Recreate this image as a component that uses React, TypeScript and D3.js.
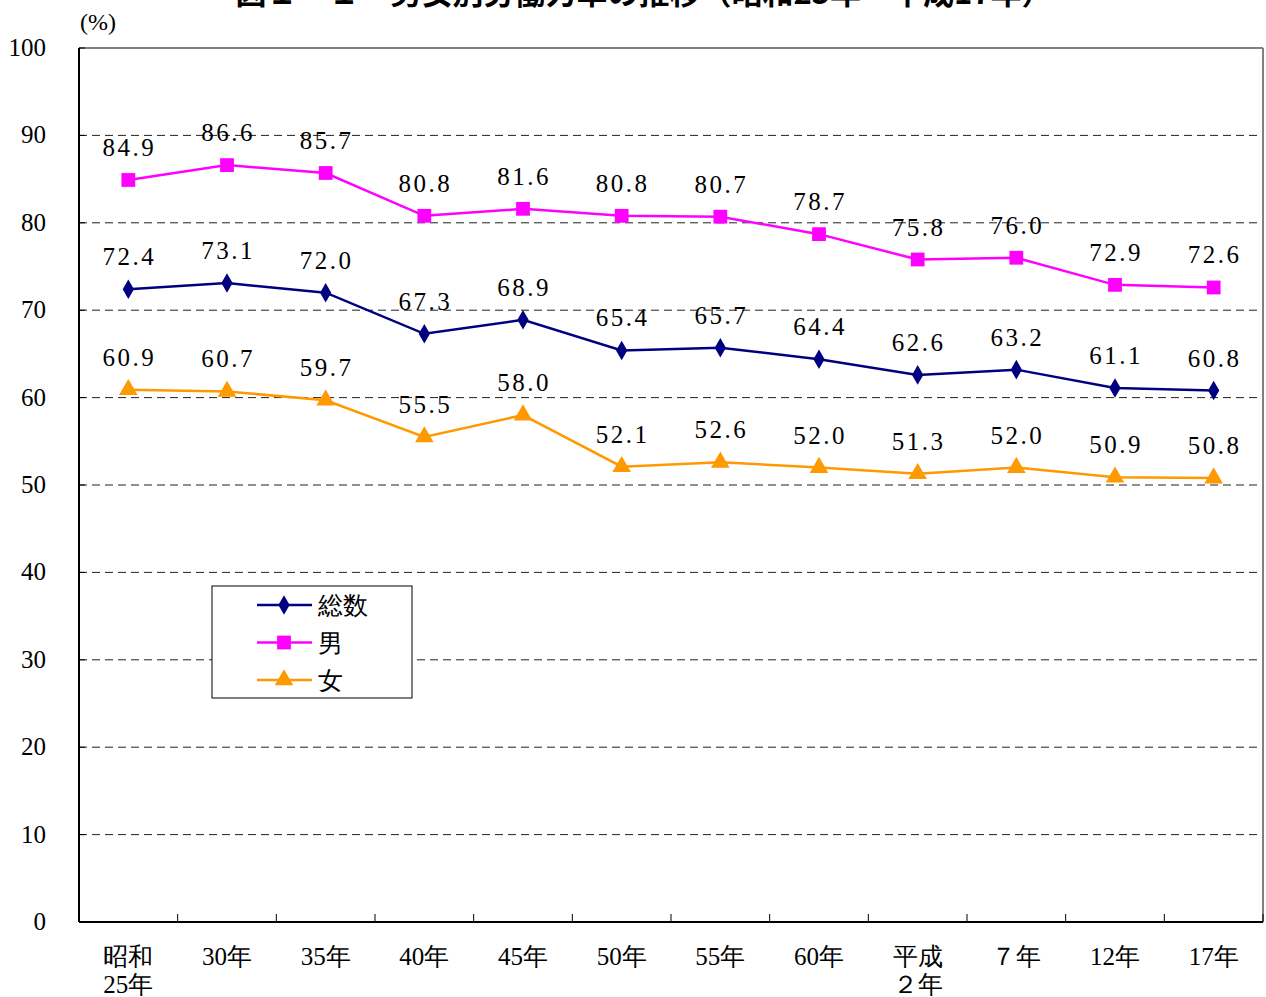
import * as d3 from "d3";

// 年次（カテゴリ）
const categories = [
  ["昭和", "25年"],
  ["30年"],
  ["35年"],
  ["40年"],
  ["45年"],
  ["50年"],
  ["55年"],
  ["60年"],
  ["平成", "２年"],
  ["７年"],
  ["12年"],
  ["17年"],
];

const total = [72.4, 73.1, 72.0, 67.3, 68.9, 65.4, 65.7, 64.4, 62.6, 63.2, 61.1, 60.8];
const male = [84.9, 86.6, 85.7, 80.8, 81.6, 80.8, 80.7, 78.7, 75.8, 76.0, 72.9, 72.6];
const female = [60.9, 60.7, 59.7, 55.5, 58.0, 52.1, 52.6, 52.0, 51.3, 52.0, 50.9, 50.8];

const yTicks = [0, 10, 20, 30, 40, 50, 60, 70, 80, 90, 100];

const series = [
  { name: "総数", values: total, color: "#000080", marker: "diamond" },
  { name: "男", values: male, color: "#FF00FF", marker: "square" },
  { name: "女", values: female, color: "#FF9900", marker: "triangle" },
];

const width = 1266;
const height = 997;
const margin = { top: 48, right: 3, bottom: 75, left: 79 };
const innerW = width - margin.left - margin.right;
const innerH = height - margin.top - margin.bottom;

const serif = "Liberation Serif";

const markerPath = (type) => {
  if (type === "diamond") return d3.symbol(d3.symbolDiamond, 110)();
  if (type === "square") return d3.symbol(d3.symbolSquare, 190)();
  return d3.symbol(d3.symbolTriangle, 150)();
};

export default function App() {
  const x = d3
    .scaleBand()
    .domain(categories.map((d, i) => i))
    .range([0, innerW]);
  const y = d3.scaleLinear().domain([0, 100]).range([innerH, 0]);
  const cx = (i) => x(i) + x.bandwidth() / 2;

  const line = d3
    .line()
    .x((d, i) => cx(i))
    .y((d) => y(d));

  const fmt = d3.format(".1f");
  const boundaries = categories.map((d, i) => x(i)).concat([innerW]);

  return (
    <svg
      width={width}
      height={height}
      style={{ position: "absolute", left: 0, top: 0, background: "#fff" }}
    >
      {/* タイトル（上端で切れている） */}
      <text
        x={644}
        y={4}
        textAnchor="middle"
        fontFamily="Noto Sans CJK JP"
        fontWeight="bold"
        fontSize={31}
      >
        図１－１　男女別労働力率の推移（昭和25年～平成17年）
      </text>
      <text x={98} y={30} textAnchor="middle" fontFamily={serif} fontSize={24}>
        (%)
      </text>

      <g transform={`translate(${margin.left},${margin.top})`}>
        {/* グリッド線 */}
        {yTicks
          .filter((t) => t > 0 && t < 100)
          .map((t) => (
            <line
              key={t}
              x1={0}
              x2={innerW}
              y1={y(t)}
              y2={y(t)}
              stroke="#222"
              strokeWidth={1}
              strokeDasharray="8,5"
            />
          ))}
        {/* 上と右の枠 */}
        <line x1={0} x2={innerW} y1={y(100)} y2={y(100)} stroke="#808080" strokeWidth={2} />
        <line x1={innerW} x2={innerW} y1={y(100)} y2={innerH} stroke="#808080" strokeWidth={2} />

        {/* Y軸 */}
        <line x1={0} x2={0} y1={y(100)} y2={innerH} stroke="#000" strokeWidth={2} />
        {yTicks.map((t) => (
          <g key={t}>
            <line x1={0} x2={6} y1={y(t)} y2={y(t)} stroke="#000" />
            <text
              x={-33}
              y={y(t) + 8}
              textAnchor="end"
              fontFamily={serif}
              fontSize={25}
            >
              {t}
            </text>
          </g>
        ))}

        {/* X軸 */}
        <g transform={`translate(0,${innerH})`}>
          <line x1={0} x2={innerW} stroke="#000" strokeWidth={2} />
          {boundaries.map((b, i) => (
            <line key={i} x1={b} x2={b} y1={0} y2={-8} stroke="#000" />
          ))}
          {categories.map((lines, i) => (
            <text key={i} textAnchor="middle" fontFamily={serif} fontSize={25}>
              {lines.map((ln, j) => (
                <tspan key={j} x={cx(i)} y={43 + j * 28}>
                  {ln}
                </tspan>
              ))}
            </text>
          ))}
        </g>

        {/* 系列 */}
        {series.map((s) => (
          <g key={s.name}>
            <path d={line(s.values)} fill="none" stroke={s.color} strokeWidth={2.5} />
            {s.values.map((v, i) => (
              <path
                key={i}
                d={markerPath(s.marker)}
                transform={`translate(${cx(i)},${y(v)})`}
                fill={s.color}
              />
            ))}
            {s.values.map((v, i) => (
              <text
                key={"l" + i}
                x={cx(i) + 1}
                y={y(v) - 24}
                textAnchor="middle"
                fontFamily={serif}
                fontSize={25}
                letterSpacing={2.5}
              >
                {fmt(v)}
              </text>
            ))}
          </g>
        ))}
      </g>

      {/* 凡例 */}
      <g transform="translate(212,586)">
        <rect width={200} height={112} fill="#fff" stroke="#000" strokeWidth={1} />
        {series.map((s, i) => {
          const ly = 19 + i * 37.5;
          return (
            <g key={s.name}>
              <line x1={45} x2={100} y1={ly} y2={ly} stroke={s.color} strokeWidth={2.5} />
              <path
                d={markerPath(s.marker)}
                transform={`translate(72,${ly})`}
                fill={s.color}
              />
              <text x={106} y={ly + 9} fontFamily={serif} fontSize={25}>
                {s.name}
              </text>
            </g>
          );
        })}
      </g>
    </svg>
  );
}
